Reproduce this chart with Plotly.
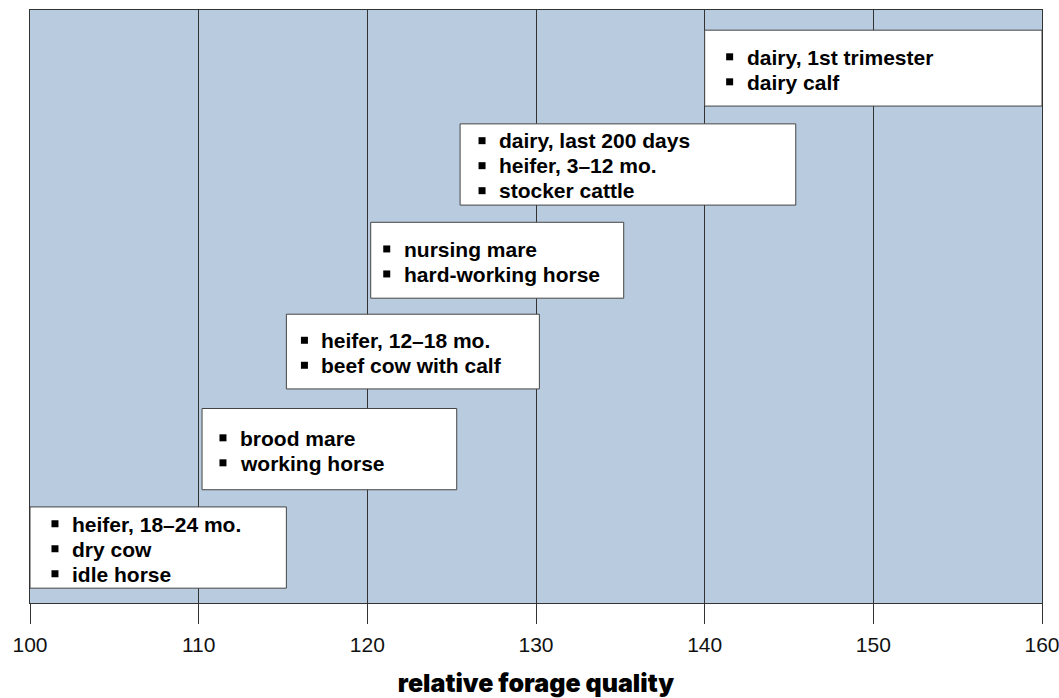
import plotly.graph_objects as go

# Relative forage quality ranges for each animal group
groups = [
    ["heifer, 18–24 mo.", "dry cow", "idle horse"],
    ["brood mare", "working horse"],
    ["heifer, 12–18 mo.", "beef cow with calf"],
    ["nursing mare", "hard-working horse"],
    ["dairy, last 200 days", "heifer, 3–12 mo.", "stocker cattle"],
    ["dairy, 1st trimester", "dairy calf"],
]
rfq_low = [100, 110.2, 115.2, 120.2, 125.5, 140]
rfq_high = [115.2, 125.3, 130.2, 135.2, 145.4, 160]

# vertical placement of each box (0 = bottom of plot, 100 = top)
box_bottom = [2.5, 19.1, 36.1, 51.4, 67.1, 83.8]
box_top = [16.2, 32.8, 48.7, 64.2, 80.8, 96.6]
text_pad = [2.37, 2.13, 1.96, 1.84, 2.19, 2.37]

x_ticks = [100, 110, 120, 130, 140, 150, 160]

PLOT_W, PLOT_H = 1012, 593
x_per_px = (x_ticks[-1] - x_ticks[0]) / PLOT_W
y_per_px = 100 / PLOT_H
line_step = 25 * y_per_px
line_shift = 1.5 * y_per_px
bullet_gap = 15 * x_per_px

fig = go.Figure()

bx, by = [], []
for i, items in enumerate(groups):
    x0, x1 = rfq_low[i], rfq_high[i]
    y0, y1 = box_bottom[i], box_top[i]
    fig.add_shape(type="rect", x0=x0, x1=x1, y0=y0, y1=y1,
                  xref="x", yref="y", layer="between",
                  fillcolor="white", line=dict(color="#444444", width=1))
    mid = (y0 + y1) / 2 - line_shift
    n = len(items)
    tx = x0 + text_pad[i]
    for j, label in enumerate(items):
        yy = mid + ((n - 1) / 2 - j) * line_step
        fig.add_annotation(x=tx, y=yy, xref="x", yref="y", text=label,
                           showarrow=False, xanchor="left", yanchor="middle",
                           font=dict(family="Liberation Sans", size=21,
                                     color="black", weight="bold"))
        bx.append(tx - bullet_gap)
        by.append(yy + 0.3 * y_per_px)

fig.add_trace(go.Scatter(x=bx, y=by, mode="markers", hoverinfo="skip",
                         marker=dict(symbol="square", size=7, color="black",
                                     line=dict(width=0)),
                         showlegend=False))

fig.update_layout(
    width=1059, height=698,
    margin=dict(l=30, r=17, t=10, b=95, autoexpand=False),
    paper_bgcolor="white",
    plot_bgcolor="#b9ccdf",
    showlegend=False,
)
fig.update_xaxes(
    range=[x_ticks[0], x_ticks[-1]],
    tickvals=x_ticks, ticktext=[str(v) for v in x_ticks],
    ticks="outside", ticklen=20, tickcolor="#333333", tickwidth=1,
    ticklabelstandoff=3, ticklabeloverflow="allow",
    showgrid=True, gridcolor="#333333", gridwidth=1,
    showline=True, linecolor="#333333", linewidth=1, mirror=True,
    zeroline=False, automargin=False,
    tickfont=dict(family="Liberation Sans", size=21, color="#111111"),
    title=dict(text="relative forage quality", standoff=26,
               font=dict(family="Inter", size=25, color="black", weight=900)),
)
fig.update_yaxes(range=[0, 100], showgrid=False, zeroline=False,
                 showticklabels=False, ticks="", showline=True,
                 linecolor="#333333", linewidth=1, mirror=True,
                 automargin=False)

fig.write_html("out.html")
